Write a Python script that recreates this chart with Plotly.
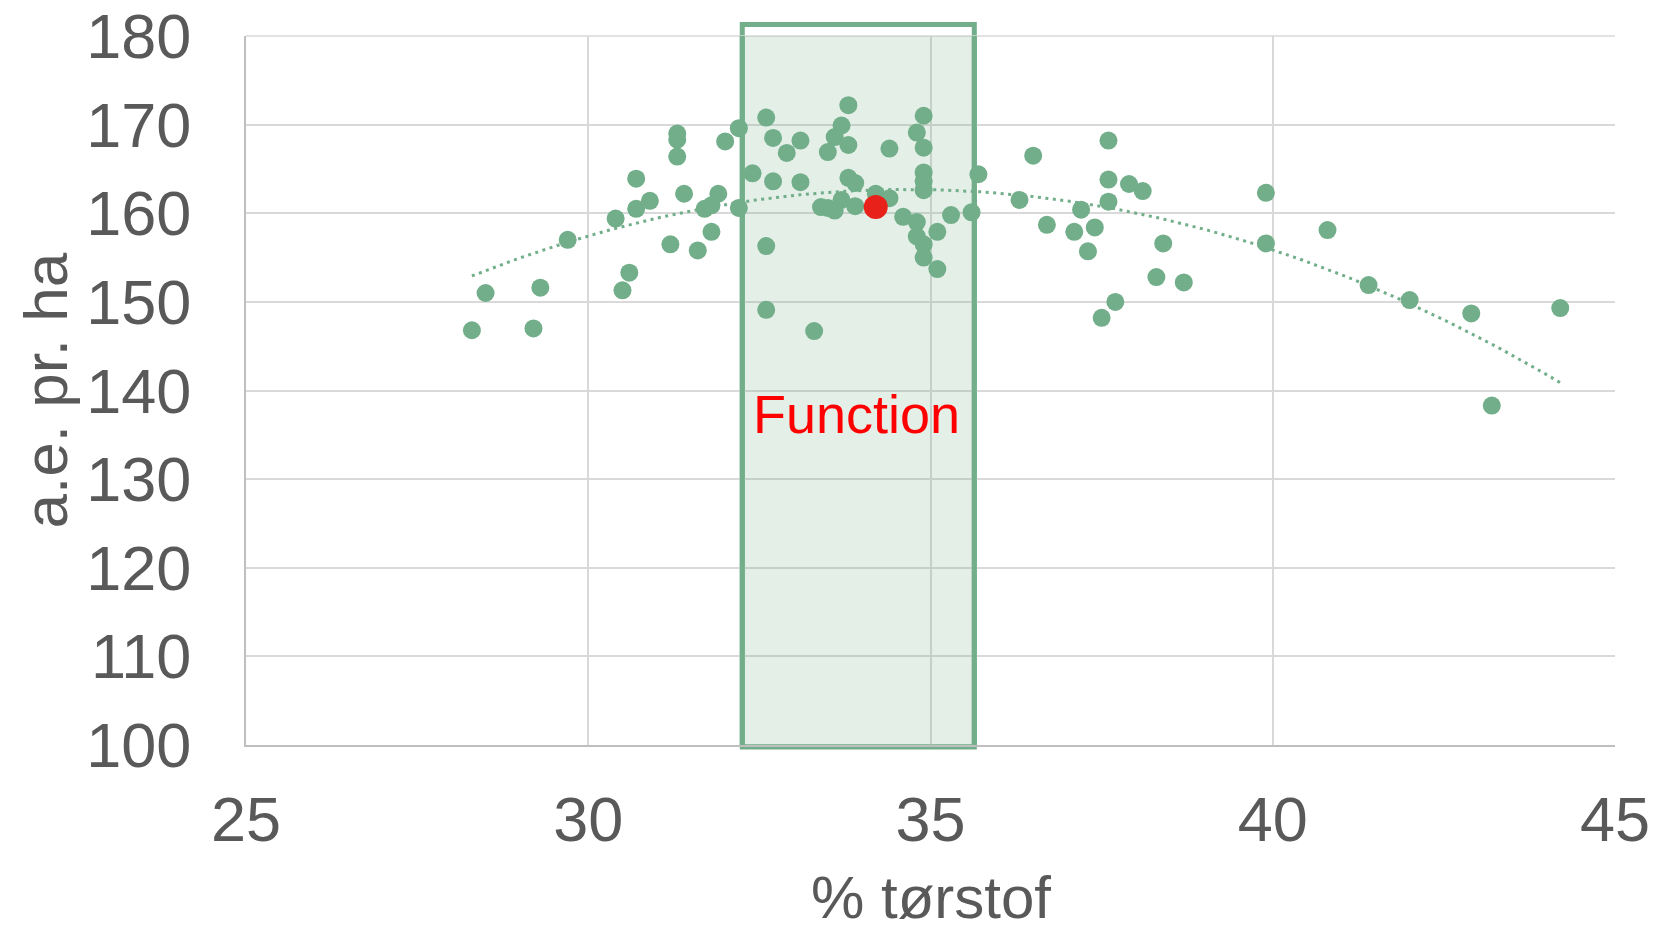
import numpy as np
import plotly.graph_objects as go

# Field measurements: dry matter (%) vs. feed units per hectare
dry_matter = [
    28.3, 28.5, 29.2, 29.3, 29.7, 30.4, 30.6, 30.5, 30.7, 30.7, 30.9,
    31.3, 31.3, 31.3, 31.2, 31.4, 31.6, 31.7, 31.8, 31.8, 31.9, 32.0,
    32.2, 32.2, 32.4, 32.6, 32.7, 32.9, 33.1, 32.7, 33.1, 32.6, 32.6, 33.3,
    33.8, 33.7, 33.6, 33.8, 33.5, 34.4, 34.9, 34.8, 34.9, 34.9, 34.9, 34.9,
    33.8, 33.9, 34.2, 34.4, 33.7, 33.4, 33.5, 33.6, 33.9, 34.6, 34.8, 34.8,
    34.9, 34.9, 35.1, 35.1, 35.3, 35.6, 35.7, 36.3, 36.5, 36.7, 37.1, 37.2,
    37.3, 37.4, 37.6, 37.6, 37.6, 37.9, 38.1, 38.4, 38.3, 38.7, 37.7, 37.5,
    39.9, 39.9, 40.8, 41.4, 42.0, 42.9, 43.2, 44.2,
]
feed_units = [
    146.8, 151.0, 147.0, 151.6, 157.0, 159.4, 153.3, 151.3, 163.9, 160.5, 161.4,
    169.0, 168.3, 166.4, 156.5, 162.2, 155.8, 160.5, 160.9, 157.9, 162.2, 168.1,
    169.6, 160.6, 164.5, 170.8, 168.5, 166.8, 168.2, 163.6, 163.5, 156.3, 149.1, 146.7,
    172.2, 169.9, 168.6, 167.7, 166.9, 167.3, 171.0, 169.1, 167.4, 164.6, 163.6, 162.6,
    164.0, 163.4, 162.2, 161.7, 161.5, 160.7, 160.6, 160.3, 160.8, 159.6, 159.0, 157.4,
    156.5, 155.0, 157.9, 153.7, 159.8, 160.1, 164.4, 161.5, 166.5, 158.7, 157.9, 160.4,
    155.7, 158.4, 168.2, 163.8, 161.3, 163.3, 162.5, 156.6, 152.8, 152.2, 150.0, 148.2,
    162.3, 156.6, 158.1, 151.9, 150.2, 148.7, 138.3, 149.3,
]

# Highlighted point
func_x = [34.2]
func_y = [160.7]
func_label = "Function"
func_label_pos = (33.92, 137.3)

# Highlighted dry-matter window
window_x = (32.25, 35.64)
window_y = (99.77, 181.3)

x_range = [25, 45]
y_range = [100, 180]
x_ticks = [25, 30, 35, 40, 45]
y_ticks = [100, 110, 120, 130, 140, 150, 160, 170, 180]
x_title = "% tørstof"
y_title = "a.e. pr. ha"

GREEN = "#71AE89"
GRID = "#D9D9D9"
TEXT = "#595959"
FONT = "Liberation Sans, Arial, sans-serif"

# Second-order polynomial trend line fitted to the measurements
coef = np.polyfit(dry_matter, feed_units, 2)
trend_x = np.linspace(min(dry_matter), max(dry_matter), 200)
trend_y = np.polyval(coef, trend_x)

fig = go.Figure()

fig.add_trace(go.Scatter(
    x=trend_x, y=trend_y, mode="lines",
    line=dict(color=GREEN, width=3, dash="3px,4.5px"),
    hoverinfo="skip", showlegend=False,
))
fig.add_trace(go.Scatter(
    x=dry_matter, y=feed_units, mode="markers",
    marker=dict(color=GREEN, size=18, line=dict(width=0)),
    showlegend=False,
))
fig.add_trace(go.Scatter(
    x=func_x, y=func_y, mode="markers",
    marker=dict(color="#E8211A", size=24, line=dict(width=0)),
    showlegend=False,
))


def to_domain(v, rng):
    return (v - rng[0]) / (rng[1] - rng[0])


# Full outline of the window (reaches past the plot frame, drawn underneath)
fig.add_shape(
    type="rect", xref="x domain", yref="y domain", layer="below",
    x0=to_domain(window_x[0], x_range), x1=to_domain(window_x[1], x_range),
    y0=to_domain(window_y[0], y_range), y1=to_domain(window_y[1], y_range),
    fillcolor="rgba(0,0,0,0)",
    line=dict(color=GREEN, width=5),
)
# Tinted window inside the plot, above the grid and below the points
fig.add_shape(
    type="rect", xref="x", yref="y", layer="between",
    x0=window_x[0], x1=window_x[1], y0=window_y[0], y1=window_y[1],
    fillcolor="rgba(113,174,137,0.2)",
    line=dict(color=GREEN, width=5),
)

# Light frame on the top edge of the plot area
fig.add_shape(
    type="line", xref="x domain", yref="y domain", layer="below",
    x0=0, x1=1, y0=1, y1=1, line=dict(color=GRID, width=1.5),
)

fig.add_annotation(
    x=func_label_pos[0], y=func_label_pos[1], text=func_label,
    showarrow=False, font=dict(family=FONT, size=54, color="#FF0000"),
)

# Axis titles
fig.add_annotation(
    xref="paper", yref="paper", x=0.5, y=-0.2145, yanchor="middle",
    text=x_title, showarrow=False, font=dict(family=FONT, size=60, color=TEXT),
)
fig.add_annotation(
    xref="paper", yref="paper", x=-0.1461, y=0.5, xanchor="center", textangle=-90,
    text=y_title, showarrow=False, font=dict(family=FONT, size=62, color=TEXT),
)

fig.update_xaxes(
    range=x_range, tickvals=x_ticks, showgrid=True, gridcolor=GRID, gridwidth=1.5,
    showline=True, linecolor="#BFBFBF", linewidth=2, zeroline=False,
    ticks="", ticklabelstandoff=18, automargin=False,
    tickfont=dict(family=FONT, size=63, color=TEXT),
)
fig.update_yaxes(
    range=y_range, tickvals=y_ticks, showgrid=True, gridcolor=GRID, gridwidth=1.5,
    showline=True, linecolor="#BFBFBF", linewidth=2, zeroline=False,
    ticks="", ticklabelstandoff=40, automargin=False,
    tickfont=dict(family=FONT, size=63, color=TEXT),
)

fig.update_layout(
    width=1658, height=929,
    margin=dict(l=246, r=43, t=36, b=183.5),
    paper_bgcolor="white", plot_bgcolor="rgba(0,0,0,0)",
    showlegend=False,
)

fig.write_html("out.html")
